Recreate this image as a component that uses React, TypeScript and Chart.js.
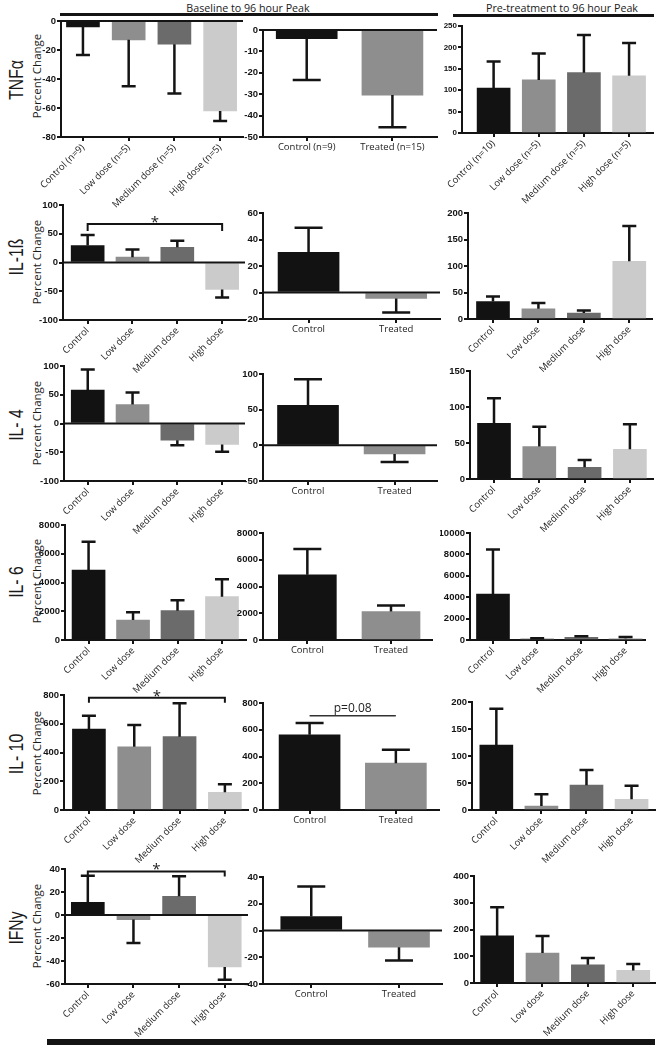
import React, { useEffect, useRef } from "react";
import { Chart, registerables } from "chart.js";
Chart.register(...registerables);

// ---------------- categories / labels ----------------
const doseGroupsN9 = ["Control (n=9)", "Low dose (n=5)", "Medium dose (n=5)", "High dose (n=5)"];
const doseGroupsN10 = ["Control (n=10)", "Low dose (n=5)", "Medium dose (n=5)", "High dose (n=5)"];
const doseGroups = ["Control", "Low dose", "Medium dose", "High dose"];
const pooledGroupsN = ["Control (n=9)", "Treated (n=15)"];
const pooledGroups = ["Control", "Treated"];
const cytokines = ["TNFα", "IL-1ß", "IL- 4", "IL- 6", "IL- 10", "IFNy"];
const sectionTitles = ["Baseline to 96 hour Peak", "Pre-treatment to 96 hour Peak"];
const yAxisTitle = "Percent Change";

// ---------------- series: mean and SD (percent change) ----------------
const tnfBaseDoseMean = [-4, -13, -16, -62];
const tnfBaseDoseSd = [19.5, 32, 34, 7];
const tnfBasePoolMean = [-4, -30.4];
const tnfBasePoolSd = [19.4, 15.1];
const tnfPreDoseMean = [105, 124, 141, 133.5];
const tnfPreDoseSd = [62, 62, 88, 76.5];

const il1bBaseDoseMean = [29.6, 9.3, 26.6, -47];
const il1bBaseDoseSd = [18.4, 13.3, 11.4, 14];
const il1bBasePoolMean = [30.4, -4.5];
const il1bBasePoolSd = [18.4, 10.5];
const il1bPreDoseMean = [33, 19.3, 11.3, 109];
const il1bPreDoseSd = [9.4, 10.7, 4.7, 66.6];

const il4BaseDoseMean = [58, 33, -29, -36.5];
const il4BaseDoseSd = [36, 21, 8.7, 12.5];
const il4BasePoolMean = [56, -12.2];
const il4BasePoolSd = [36.8, 11.2];
const il4PreDoseMean = [77.4, 45, 16.2, 41.2];
const il4PreDoseSd = [34.6, 27.7, 10.2, 34.8];

const il6BaseDoseMean = [4870, 1390, 2040, 3015];
const il6BaseDoseSd = [1970, 535, 720, 1205];
const il6BasePoolMean = [4875, 2125];
const il6BasePoolSd = [1925, 450];
const il6PreDoseMean = [4290, 100, 250, 150];
const il6PreDoseSd = [4160, 70, 100, 130];

const il10BaseDoseMean = [563, 440, 510, 123];
const il10BaseDoseSd = [93, 151, 232, 56];
const il10BasePoolMean = [562, 350];
const il10BasePoolSd = [88, 100];
const il10PreDoseMean = [120, 7.4, 46, 19.7];
const il10PreDoseSd = [67.7, 21.6, 28, 25.3];

const ifnBaseDoseMean = [11, -4, 16.2, -45.2];
const ifnBaseDoseSd = [23.2, 20.3, 17.4, 11.1];
const ifnBasePoolMean = [10.5, -12.5];
const ifnBasePoolSd = [22.4, 9.9];
const ifnPreDoseMean = [176, 112, 68, 47];
const ifnPreDoseSd = [107, 64, 25, 24];

// y-axis tick ranges [min, max, step]
const tnfAxes = [[-80, 0, 20], [-50, 0, 10], [0, 250, 50]];
const il1bAxes = [[-100, 100, 50], [-20, 60, 20], [0, 200, 50]];
const il4Axes = [[-100, 100, 50], [-50, 100, 50], [0, 150, 50]];
const il6Axes = [[0, 8000, 2000], [0, 8000, 2000], [0, 10000, 2000]];
const il10Axes = [[0, 800, 200], [0, 800, 200], [0, 200, 50]];
const ifnAxes = [[-60, 40, 20], [-40, 40, 20], [0, 400, 100]];

// significance annotations (y value in data units)
const il1bStarLevel = 67;
const il10StarLevel = 781;
const ifnStarLevel = 37.9;
const il10PooledPLevel = 705;
const starText = "*";
const pText = "p=0.08";

// ---------------- styles ----------------
const doseColors = ["#121212", "#8e8e8e", "#6b6b6b", "#cbcbcb"];
const pooledColors = ["#121212", "#8e8e8e"];
const INK = "#141414";

type Bracket = { value: number; text: string; tickPx: number; font: string; textDy: number };
type Spec = {
  labels: string[];
  means: number[];
  sds: number[];
  colors: string[];
  axis: number[];
  area: [number, number, number, number];
  xRange: [number, number];
  kind: "dose" | "pool";
  barW?: number;
  tickSize?: number;
  bracket?: Bracket;
};

const starBracket = (value: number, tickPx: number): Bracket => ({
  value, text: starText, tickPx, font: "15px 'Open Sans'", textDy: 3,
});

const specs: Spec[] = [
  // Row 1 TNFa
  { labels: doseGroupsN9, means: tnfBaseDoseMean, sds: tnfBaseDoseSd, colors: doseColors, axis: tnfAxes[0], area: [61, 21, 243, 137], xRange: [0.52, 4.5], kind: "dose" },
  { labels: pooledGroupsN, means: tnfBasePoolMean, sds: tnfBasePoolSd, colors: pooledColors, axis: tnfAxes[1], area: [263, 30, 437, 137], xRange: [0.49, 2.52], kind: "pool" },
  { labels: doseGroupsN10, means: tnfPreDoseMean, sds: tnfPreDoseSd, colors: doseColors, axis: tnfAxes[2], area: [462, 26, 653, 133], xRange: [0.3, 4.53], kind: "dose", tickSize: 8 },
  // Row 2 IL-1b
  { labels: doseGroups, means: il1bBaseDoseMean, sds: il1bBaseDoseSd, colors: doseColors, axis: il1bAxes[0], area: [63, 205, 245, 320], xRange: [0.45, 4.51], kind: "dose", bracket: starBracket(il1bStarLevel, 7) },
  { labels: pooledGroups, means: il1bBasePoolMean, sds: il1bBasePoolSd, colors: pooledColors, axis: il1bAxes[1], area: [263, 213, 440, 319], xRange: [0.48, 2.5], kind: "pool" },
  { labels: doseGroups, means: il1bPreDoseMean, sds: il1bPreDoseSd, colors: doseColors, axis: il1bAxes[2], area: [468, 213, 652, 319], xRange: [0.45, 4.5], kind: "dose" },
  // Row 3 IL-4
  { labels: doseGroups, means: il4BaseDoseMean, sds: il4BaseDoseSd, colors: doseColors, axis: il4Axes[0], area: [64, 366, 245, 481], xRange: [0.47, 4.51], kind: "dose" },
  { labels: pooledGroups, means: il4BasePoolMean, sds: il4BasePoolSd, colors: pooledColors, axis: il4Axes[1], area: [263, 374, 437, 481], xRange: [0.48, 2.49], kind: "pool" },
  { labels: doseGroups, means: il4PreDoseMean, sds: il4PreDoseSd, colors: doseColors, axis: il4Axes[2], area: [470, 371, 653, 479], xRange: [0.47, 4.51], kind: "dose" },
  // Row 4 IL-6
  { labels: doseGroups, means: il6BaseDoseMean, sds: il6BaseDoseSd, colors: doseColors, axis: il6Axes[0], area: [65, 525, 246, 640], xRange: [0.47, 4.54], kind: "dose" },
  { labels: pooledGroups, means: il6BasePoolMean, sds: il6BasePoolSd, colors: pooledColors, axis: il6Axes[1], area: [263, 533, 432, 640], xRange: [0.47, 2.49], kind: "pool", barW: 58 },
  { labels: doseGroups, means: il6PreDoseMean, sds: il6PreDoseSd, colors: doseColors, axis: il6Axes[2], area: [470, 533, 645, 640], xRange: [0.48, 4.44], kind: "dose" },
  // Row 5 IL-10
  { labels: doseGroups, means: il10BaseDoseMean, sds: il10BaseDoseSd, colors: doseColors, axis: il10Axes[0], area: [64, 695, 248, 810], xRange: [0.45, 4.51], kind: "dose", bracket: starBracket(il10StarLevel, 5) },
  { labels: pooledGroups, means: il10BasePoolMean, sds: il10BasePoolSd, colors: pooledColors, axis: il10Axes[1], area: [263, 703, 439, 810], xRange: [0.46, 2.5], kind: "pool", bracket: { value: il10PooledPLevel, text: pText, tickPx: 0, font: "12px 'Open Sans'", textDy: -4 } },
  { labels: doseGroups, means: il10PreDoseMean, sds: il10PreDoseSd, colors: doseColors, axis: il10Axes[2], area: [472, 702, 655, 810], xRange: [0.46, 4.52], kind: "dose" },
  // Row 6 IFNy
  { labels: doseGroups, means: ifnBaseDoseMean, sds: ifnBaseDoseSd, colors: doseColors, axis: ifnAxes[0], area: [65, 869, 248, 984], xRange: [0.5, 4.51], kind: "dose", bracket: starBracket(ifnStarLevel, 5) },
  { labels: pooledGroups, means: ifnBasePoolMean, sds: ifnBasePoolSd, colors: pooledColors, axis: ifnAxes[1], area: [263, 877, 442, 984], xRange: [0.45, 2.49], kind: "pool" },
  { labels: doseGroups, means: ifnPreDoseMean, sds: ifnPreDoseSd, colors: doseColors, axis: ifnAxes[2], area: [474, 876, 655, 983], xRange: [0.49, 4.48], kind: "dose" },
];

const LAYOUT = { padL: 45, yW: 30, padT: 24, padR: 4, xHDose: 72, xHPool: 26 };

function Panel({ spec }: { spec: Spec }) {
  const ref = useRef<HTMLCanvasElement | null>(null);
  const [L, T, R, B] = spec.area;
  const dose = spec.kind === "dose";
  const xH = dose ? LAYOUT.xHDose : LAYOUT.xHPool;
  const w = LAYOUT.padL + (R - L) + LAYOUT.padR;
  const h = LAYOUT.padT + (B - T) + xH;

  useEffect(() => {
    const barW = spec.barW ?? (dose ? 33 : 61);
    const capW = dose ? 14 : 28;
    const [ymin, ymax, ystep] = spec.axis;

    const overlay = {
      id: "overlay",
      afterDatasetsDraw(chart: any) {
        const ctx = chart.ctx as CanvasRenderingContext2D;
        const ys = chart.scales.y;
        const area = chart.chartArea;
        const meta = chart.getDatasetMeta(0);
        ctx.save();
        ctx.strokeStyle = INK;
        ctx.fillStyle = INK;
        ctx.lineWidth = 2;
        if (ymin < 0) {
          const y0 = ys.getPixelForValue(0);
          ctx.beginPath();
          ctx.moveTo(area.left, y0);
          ctx.lineTo(area.right, y0);
          ctx.stroke();
        }
        ctx.lineWidth = 2.5;
        meta.data.forEach((bar: any, i: number) => {
          const m = spec.means[i];
          const end = m + (m < 0 ? -1 : 1) * spec.sds[i];
          const yS = ys.getPixelForValue(m);
          const yE = ys.getPixelForValue(end);
          ctx.beginPath();
          ctx.moveTo(bar.x, yS);
          ctx.lineTo(bar.x, yE);
          ctx.moveTo(bar.x - capW / 2, yE);
          ctx.lineTo(bar.x + capW / 2, yE);
          ctx.stroke();
        });
        const b = spec.bracket;
        if (b) {
          const x1 = meta.data[0].x;
          const x2 = meta.data[meta.data.length - 1].x;
          const yb = ys.getPixelForValue(b.value);
          ctx.lineWidth = b.tickPx ? 2 : 1.5;
          ctx.strokeStyle = b.tickPx ? INK : "#333";
          ctx.beginPath();
          if (b.tickPx) {
            ctx.moveTo(x1, yb + b.tickPx);
            ctx.lineTo(x1, yb);
            ctx.lineTo(x2, yb);
            ctx.lineTo(x2, yb + b.tickPx);
          } else {
            ctx.moveTo(x1, yb);
            ctx.lineTo(x2, yb);
          }
          ctx.stroke();
          ctx.font = b.font;
          ctx.fillStyle = "#222";
          ctx.textAlign = "center";
          ctx.textBaseline = "alphabetic";
          ctx.fillText(b.text, (x1 + x2) / 2, yb + b.textDy);
        }
        ctx.restore();
      },
    };

    const chart = new Chart(ref.current as HTMLCanvasElement, {
      type: "bar",
      data: {
        datasets: [
          {
            data: spec.means.map((v, i) => ({ x: i + 1, y: v })),
            backgroundColor: spec.colors,
            borderWidth: 0,
            barThickness: barW,
          },
        ],
      },
      options: {
        responsive: false,
        animation: false,
        devicePixelRatio: 1,
        layout: { padding: { left: LAYOUT.padL - LAYOUT.yW, top: LAYOUT.padT, right: LAYOUT.padR, bottom: 0 } },
        plugins: { legend: { display: false }, tooltip: { enabled: false }, title: { display: false } },
        scales: {
          x: {
            type: "linear",
            offset: false,
            min: spec.xRange[0],
            max: spec.xRange[1],
            afterBuildTicks: (s: any) => {
              s.ticks = s.ticks.filter(
                (t: any) => Number.isInteger(t.value) && t.value >= 1 && t.value <= spec.labels.length
              );
            },
            afterFit: (s: any) => {
              s.height = xH;
            },
            ticks: {
              stepSize: 1,
              autoSkip: false,
              minRotation: dose ? 45 : 0,
              maxRotation: dose ? 45 : 0,
              padding: 1,
              color: "#1c1c1c",
              font: { family: "'Open Sans'", size: 9.5 },
              callback: (v: any) => spec.labels[Math.round(Number(v)) - 1] ?? "",
            },
            grid: { offset: false, drawOnChartArea: false, drawTicks: true, tickLength: 4, color: INK, lineWidth: 2 },
            border: { color: INK, width: 2 },
          },
          y: {
            type: "linear",
            min: ymin,
            max: ymax,
            afterFit: (s: any) => {
              s.width = LAYOUT.yW;
            },
            ticks: {
              stepSize: ystep,
              padding: 1,
              color: INK,
              font: { family: "'Liberation Sans', Arial", weight: "bold", size: spec.tickSize ?? 9.5 },
              callback: (v: any) => String(v),
            },
            grid: { drawOnChartArea: false, drawTicks: true, tickLength: 4, color: INK, lineWidth: 2 },
            border: { color: INK, width: 2 },
          },
        },
      },
      plugins: [overlay],
    } as any);
    return () => chart.destroy();
  }, []);

  return (
    <canvas
      ref={ref}
      width={w}
      height={h}
      style={{ position: "absolute", left: L - LAYOUT.padL, top: T - LAYOUT.padT, width: w, height: h }}
    />
  );
}

const rowLabelY = [80, 257, 425, 582, 754, 928];
const titleY = [76, 262, 423, 581, 753, 926];

function Rotated({ text, x, y, style }: { text: string; x: number; y: number; style: React.CSSProperties }) {
  return (
    <div
      style={{
        position: "absolute",
        left: x,
        top: y,
        whiteSpace: "nowrap",
        lineHeight: 1,
        color: "#1a1a1a",
        ...style,
      }}
    >
      {text}
    </div>
  );
}

export default function App() {
  return (
    <div
      style={{
        position: "absolute",
        left: 0,
        top: 0,
        width: 659,
        height: 1047,
        overflow: "hidden",
        background: "#fff",
      }}
    >
      <div style={{ position: "absolute", left: 248, top: 7.5, transform: "translate(-50%,-50%)", font: "10.7px 'Open Sans'", color: "#1a1a1a", whiteSpace: "nowrap" }}>
        {sectionTitles[0]}
      </div>
      <div style={{ position: "absolute", left: 562, top: 7.5, transform: "translate(-50%,-50%)", font: "10.7px 'Open Sans'", color: "#1a1a1a", whiteSpace: "nowrap" }}>
        {sectionTitles[1]}
      </div>
      <div style={{ position: "absolute", left: 60, top: 13, width: 378, height: 3, background: INK }} />
      <div style={{ position: "absolute", left: 453, top: 13.5, width: 201, height: 3, background: INK }} />
      <div style={{ position: "absolute", left: 47, top: 1039, width: 608, height: 6, background: INK }} />

      {cytokines.map((c, i) => (
        <Rotated
          key={"r" + i}
          text={c}
          x={15.5}
          y={rowLabelY[i]}
          style={{ font: "21px 'Liberation Sans', Arial", transform: "translate(-50%,-50%) rotate(-90deg) scaleX(0.75)" }}
        />
      ))}
      {titleY.map((y, i) => (
        <Rotated
          key={"t" + i}
          text={yAxisTitle}
          x={35.5}
          y={y}
          style={{ font: "11.5px 'Open Sans'", transform: "translate(-50%,-50%) rotate(-90deg)" }}
        />
      ))}

      {specs.map((s, i) => (
        <Panel key={i} spec={s} />
      ))}
    </div>
  );
}
